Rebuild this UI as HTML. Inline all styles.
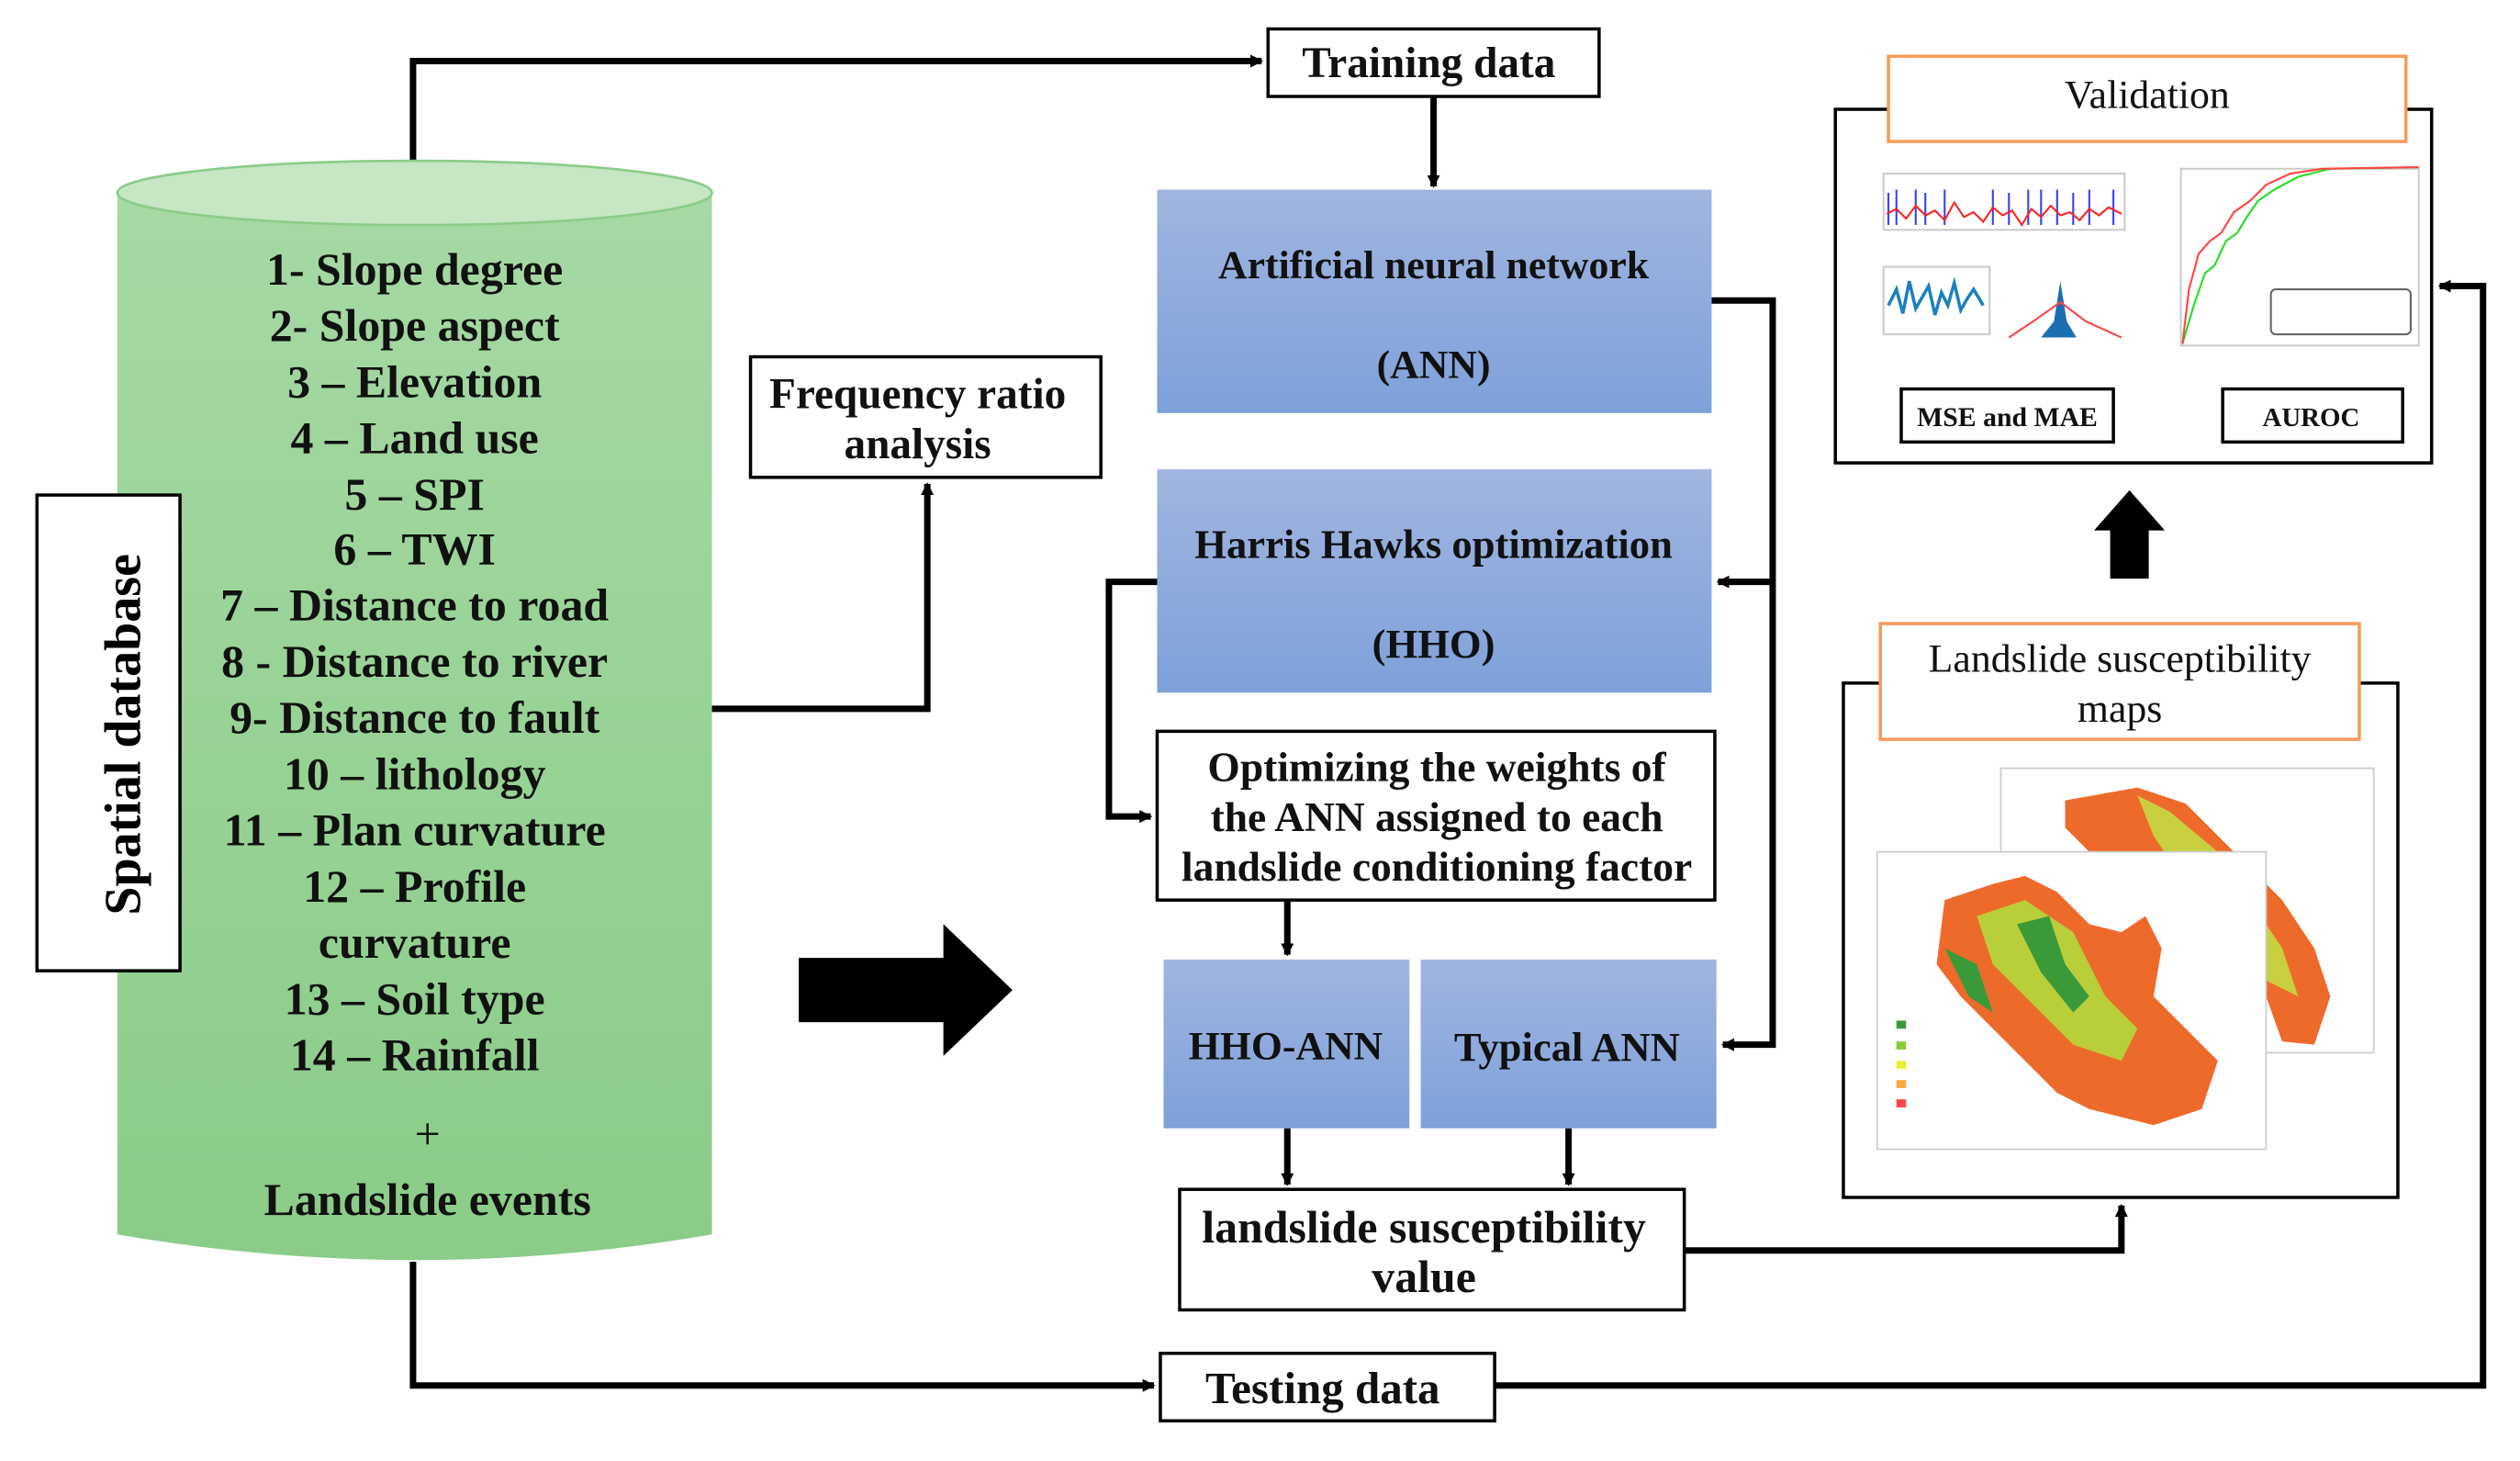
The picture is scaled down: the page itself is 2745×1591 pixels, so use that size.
<!DOCTYPE html>
<html><head><meta charset="utf-8"><style>
html,body{margin:0;padding:0;background:#fff;}
svg{display:block;}
text{font-family:"Liberation Serif",serif;}
</style></head><body>
<svg width="2745" height="1591" viewBox="0 0 1568 909" preserveAspectRatio="none" xmlns="http://www.w3.org/2000/svg">
<defs>
<linearGradient id="g" x1="0" y1="0" x2="0" y2="1"><stop offset="0" stop-color="#a6d9a4"/><stop offset="1" stop-color="#8acc88"/></linearGradient>
<linearGradient id="b" x1="0" y1="0" x2="0" y2="1"><stop offset="0" stop-color="#a1b5e0"/><stop offset="1" stop-color="#7ea1da"/></linearGradient>
<marker id="a" markerWidth="8" markerHeight="8" refX="7" refY="4" orient="auto" markerUnits="userSpaceOnUse"><path d="M0,0 L8,4 L0,8 Z" fill="#000"/></marker>
</defs>
<g stroke="#000" stroke-width="4" fill="none">
<polyline points="257,100 257,38 785,38" marker-end="url(#a)"/>
<polyline points="892,60 892,116" marker-end="url(#a)"/>
<polyline points="257,785 257,862 718,862" marker-end="url(#a)"/>
<polyline points="930,862 1545,862 1545,178 1518,178" marker-end="url(#a)"/>
<polyline points="443,441 577,441 577,301" marker-end="url(#a)"/>
<polyline points="1065,187 1103,187 1103,650 1072,650" marker-end="url(#a)"/>
<polyline points="1103,362 1069,362" marker-end="url(#a)"/>
<polyline points="720,362 690,362 690,508 716,508" marker-end="url(#a)"/>
<polyline points="801,560 801,594" marker-end="url(#a)"/>
<polyline points="801,702 801,737" marker-end="url(#a)"/>
<polyline points="976,702 976,737" marker-end="url(#a)"/>
<polyline points="1048,778 1320,778 1320,750" marker-end="url(#a)"/>
</g>
<path d="M73,120 L73,768 Q258,800 443,768 L443,120 Z" fill="url(#g)"/>
<ellipse cx="258" cy="120" rx="185" ry="20" fill="#c6e6c4" stroke="#8acc88" stroke-width="1.5"/>
<g font-weight="bold" font-size="28.5" text-anchor="middle" fill="#111">
<text x="258" y="177">1- Slope degree</text>
<text x="258" y="212">2- Slope aspect</text>
<text x="258" y="247">3 – Elevation</text>
<text x="258" y="282">4 – Land use</text>
<text x="258" y="317">5 – SPI</text>
<text x="258" y="351">6 – TWI</text>
<text x="258" y="386">7 – Distance to road</text>
<text x="258" y="421">8 - Distance to river</text>
<text x="258" y="456">9- Distance to fault</text>
<text x="258" y="491">10 – lithology</text>
<text x="258" y="526">11 – Plan curvature</text>
<text x="258" y="561">12 – Profile</text>
<text x="258" y="596">curvature</text>
<text x="258" y="631">13 – Soil type</text>
<text x="258" y="666">14 – Rainfall</text>
<text x="266" y="715" font-weight="normal">+</text>
<text x="266" y="756">Landslide events</text>
</g>
<rect x="23" y="308" width="89" height="296" fill="#fff" stroke="#000" stroke-width="2"/>
<text transform="translate(87,457) rotate(-90)" text-anchor="middle" font-weight="bold" font-size="32">Spatial database</text>
<path d="M497,596 L587,596 L587,575 L630,616 L587,657 L587,636 L497,636 Z" fill="#000"/>
<g fill="#fff" stroke="#000" stroke-width="2">
<rect x="789" y="18" width="206" height="42"/>
<rect x="467" y="222" width="218" height="75"/>
<rect x="720" y="455" width="347" height="105"/>
<rect x="734" y="740" width="314" height="75"/>
<rect x="722" y="842" width="208" height="42"/>
<rect x="1142" y="68" width="371" height="220"/>
<rect x="1147" y="425" width="345" height="320"/>
<rect x="1183" y="242" width="132" height="33"/>
<rect x="1383" y="242" width="112" height="33"/>
</g>
<rect x="1175" y="35" width="322" height="53" fill="#fff" stroke="#f79a5a" stroke-width="2"/>
<rect x="1170" y="388" width="298" height="72" fill="#fff" stroke="#f79a5a" stroke-width="2"/>
<g fill="url(#b)">
<rect x="720" y="118" width="345" height="139"/>
<rect x="720" y="292" width="345" height="139"/>
<rect x="724" y="597" width="153" height="105"/>
<rect x="884" y="597" width="184" height="105"/>
</g>
<g font-weight="bold" text-anchor="middle" fill="#111">
<text x="889" y="48" font-size="27">Training data</text>
<text x="571" y="254" font-size="27">Frequency ratio</text>
<text x="571" y="285" font-size="27">analysis</text>
<text x="892" y="173" font-size="25">Artificial neural network</text>
<text x="892" y="235" font-size="25">(ANN)</text>
<text x="892" y="347" font-size="25.5">Harris Hawks optimization</text>
<text x="892" y="409" font-size="25.5">(HHO)</text>
<text x="894" y="486" font-size="26">Optimizing the weights of</text>
<text x="894" y="517" font-size="26">the ANN assigned to each</text>
<text x="894" y="548" font-size="26">landslide conditioning factor</text>
<text x="800" y="659" font-size="25">HHO-ANN</text>
<text x="975" y="660" font-size="25.5">Typical ANN</text>
<text x="886" y="773" font-size="28.5">landslide susceptibility</text>
<text x="886" y="804" font-size="28.5">value</text>
<text x="823" y="873" font-size="28">Testing data</text>
<text x="1249" y="265" font-size="17">MSE and MAE</text>
<text x="1438" y="265" font-size="16.5">AUROC</text>
</g>
<g text-anchor="middle" fill="#111" font-size="25">
<text x="1336" y="67">Validation</text>
<text x="1319" y="418">Landslide susceptibility</text>
<text x="1319" y="449">maps</text>
</g>
<path d="M1313,360 L1313,330 L1303,330 L1325,305 L1347,330 L1337,330 L1337,360 Z" fill="#000"/>
<g stroke-width="1.2" fill="none">
<rect x="1172" y="108" width="150" height="35" stroke="#ccc"/>
<path d="M1175,120 v20 M1180,118 v22 M1192,118 v22 M1198,120 v20 M1210,118 v22 M1240,118 v22 M1250,120 v20 M1262,118 v22 M1270,118 v22 M1280,118 v22 M1290,120 v20 M1300,118 v22 M1315,118 v22" stroke="#3344ee"/>
<polyline points="1174,133 1180,130 1186,136 1192,128 1198,134 1204,131 1210,137 1216,126 1222,135 1228,132 1234,138 1240,129 1246,134 1252,131 1258,140 1264,130 1270,135 1276,128 1282,134 1288,132 1294,137 1300,130 1306,134 1312,129 1320,133" stroke="#f22"/>
<rect x="1172" y="166" width="66" height="42" stroke="#ccc"/>
<polyline points="1175,190 1180,180 1184,195 1188,175 1192,192 1196,185 1200,178 1204,196 1208,182 1212,190 1216,176 1220,193 1224,186 1228,180 1234,190" stroke="#1b7fc0" stroke-width="2"/>
<path d="M1270,210 L1278,200 L1282,175 L1286,200 L1292,210 Z" fill="#1b6fb0" stroke="none"/>
<polyline points="1250,210 1265,200 1282,188 1298,200 1320,210" stroke="#f44"/>
<rect x="1357" y="105" width="148" height="110" stroke="#ccc"/>
<polyline points="1358,214 1365,190 1372,170 1378,165 1385,150 1392,145 1398,135 1405,125 1415,118 1430,110 1450,105 1505,104" stroke="#2d2"/>
<polyline points="1358,214 1362,180 1368,158 1375,150 1382,145 1390,132 1400,125 1410,115 1425,108 1445,105 1505,104" stroke="#f44"/>
<rect x="1413" y="180" width="87" height="28" rx="3" stroke="#666"/>
</g>
<rect x="1245" y="478" width="232" height="177" fill="#fff" stroke="#ccc"/>
<path d="M1285,498 L1330,490 L1360,500 L1380,520 L1400,540 L1420,560 L1440,590 L1450,620 L1440,650 L1420,648 L1410,620 L1400,600 L1380,580 L1350,540 L1300,530 L1285,515 Z" fill="#ee6a2a"/>
<path d="M1330,495 L1350,505 L1380,530 L1400,560 L1420,590 L1430,620 L1410,610 L1390,580 L1360,550 L1340,520 Z" fill="#c8d040"/>
<rect x="1168" y="530" width="242" height="185" fill="#fff" stroke="#ccc"/>
<path d="M1210,560 L1240,550 L1260,545 L1280,555 L1300,575 L1320,580 L1335,570 L1345,590 L1340,620 L1360,640 L1380,660 L1370,690 L1340,700 L1300,690 L1280,680 L1260,660 L1240,640 L1220,620 L1205,600 Z" fill="#ee6a2a"/>
<path d="M1230,570 L1260,560 L1290,580 L1310,620 L1330,640 L1320,660 L1290,650 L1260,620 L1240,600 Z" fill="#b9cf3a"/>
<path d="M1255,575 L1275,570 L1285,600 L1300,620 L1290,630 L1270,605 Z" fill="#3a9a3a"/>
<path d="M1210,590 L1230,600 L1240,630 L1225,620 Z" fill="#3a9a3a"/>
<rect x="1180" y="635" width="6" height="5" fill="#3a9a3a"/>
<rect x="1180" y="648" width="6" height="5" fill="#8c3"/>
<rect x="1180" y="660" width="6" height="5" fill="#ee3"/>
<rect x="1180" y="672" width="6" height="5" fill="#fa4"/>
<rect x="1180" y="684" width="6" height="5" fill="#f44"/>
</svg>
</body></html>
